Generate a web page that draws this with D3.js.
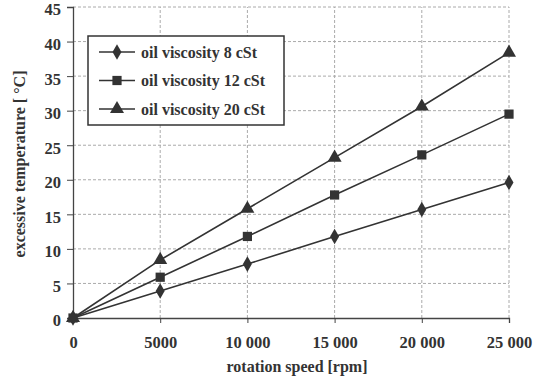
<!DOCTYPE html>
<html>
<head>
<script src="https://cdn.jsdelivr.net/npm/d3@7"></script>
<style>
    body { margin: 0; background: #fff; }
    svg text { font-family: "Liberation Serif", "DejaVu Serif", serif; font-weight: bold; fill: #333; }
</style>
</head>
<body>
<script>
var speeds = [0, 5000, 10000, 15000, 20000, 25000];
var visc8 = [0, 3.9, 7.8, 11.8, 15.7, 19.6];
var visc12 = [0, 5.9, 11.8, 17.8, 23.6, 29.5];
var visc20 = [0, 8.4, 15.8, 23.2, 30.6, 38.4];
var seriesNames = ["oil viscosity 8 cSt", "oil viscosity 12 cSt", "oil viscosity 20 cSt"];
var yTicks = [0, 5, 10, 15, 20, 25, 30, 35, 40, 45];

var width = 547, height = 383;
var svg = d3.select("body").append("svg").attr("width", width).attr("height", height);

var x = d3.scaleLinear().domain([0, 25000]).range([73, 509]);
var y = d3.scaleLinear().domain([0, 45]).range([318, 7]);

// grid
svg.append("g").selectAll("line").data(yTicks.slice(1)).enter().append("line")
    .attr("x1", x(0)).attr("x2", x(25000))
    .attr("y1", d => y(d)).attr("y2", d => y(d))
    .attr("stroke", "#aaa").attr("stroke-dasharray", "3,2").attr("stroke-width", 1);
svg.append("g").selectAll("line").data(speeds.slice(1)).enter().append("line")
    .attr("x1", d => x(d)).attr("x2", d => x(d))
    .attr("y1", y(0)).attr("y2", y(45))
    .attr("stroke", "#aaa").attr("stroke-dasharray", "3,2").attr("stroke-width", 1);

// axes
var xAxis = svg.append("g").attr("transform", "translate(0," + y(0) + ")")
    .call(d3.axisBottom(x).tickValues(speeds).tickSize(5).tickPadding(13)
        .tickFormat(d => d < 10000 ? String(d) : (d / 1000) + " 000"));
var yAxis = svg.append("g").attr("transform", "translate(" + x(0) + ",0)")
    .call(d3.axisLeft(y).tickValues(yTicks).tickSize(6).tickPadding(6));
[xAxis, yAxis].forEach(function(a) {
    a.attr("font-family", null).attr("font-size", null);
    a.select(".domain").attr("stroke", "#444").attr("stroke-width", 1.3);
    a.selectAll(".tick line").attr("stroke", "#444");
    a.selectAll("text").attr("font-size", 16.5).attr("fill", "#333");
});
yAxis.selectAll("text").attr("dy", "0.48em");

// axis titles
svg.append("text").attr("x", 297).attr("y", 372)
    .attr("text-anchor", "middle").attr("font-size", 16).text("rotation speed [rpm]");
svg.append("text").attr("transform", "translate(25,164) rotate(-90)")
    .attr("text-anchor", "middle").attr("font-size", 16).text("excessive temperature [\u00a0\u00b0C]");

// series
var data = [visc8, visc12, visc20];
var symbols = [d3.symbolDiamond, d3.symbolSquare, d3.symbolTriangle];
var sizes = [70, 85, 85];
var line = d3.line().x((d, i) => x(speeds[i])).y(d => y(d));

data.forEach(function(vals, k) {
    svg.append("path").datum(vals).attr("d", line)
        .attr("fill", "none").attr("stroke", "#333").attr("stroke-width", 1.6);
    svg.append("g").selectAll("path").data(vals).enter().append("path")
        .attr("transform", (d, i) => "translate(" + x(speeds[i]) + "," + y(d) + ")")
        .attr("d", d3.symbol().type(symbols[k]).size(sizes[k]))
        .attr("fill", "#333");
});

// legend
var lg = svg.append("g");
lg.append("rect").attr("x", 88).attr("y", 36).attr("width", 196).attr("height", 89)
    .attr("fill", "#fff").attr("stroke", "#333").attr("stroke-width", 1.5);
seriesNames.forEach(function(name, k) {
    var ly = 52 + k * 28.5;
    lg.append("line").attr("x1", 99).attr("x2", 135).attr("y1", ly).attr("y2", ly)
        .attr("stroke", "#333").attr("stroke-width", 1.6);
    lg.append("path").attr("transform", "translate(117," + ly + ")")
        .attr("d", d3.symbol().type(symbols[k]).size(sizes[k])).attr("fill", "#333");
    lg.append("text").attr("x", 141).attr("y", ly).attr("dy", "0.35em")
        .attr("font-size", 16).text(name);
});
</script>
</body>
</html>
